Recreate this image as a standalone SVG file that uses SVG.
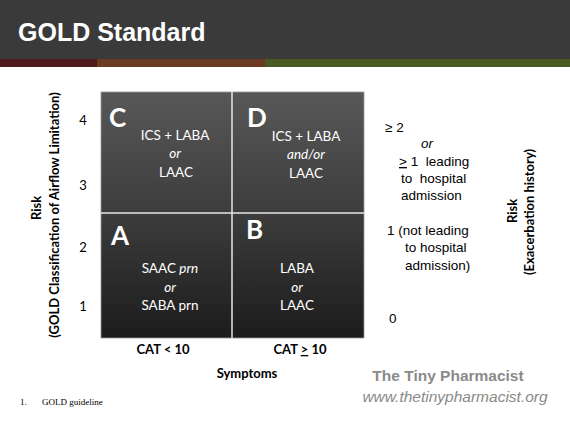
<svg xmlns="http://www.w3.org/2000/svg" width="570" height="426" viewBox="0 0 570 426">
<defs>
<linearGradient id="g" x1="0" y1="0" x2="0" y2="1">
<stop offset="0" stop-color="#585858"/>
<stop offset="0.5" stop-color="#3c3c3c"/>
<stop offset="1" stop-color="#1c1c1c"/>
</linearGradient>
</defs>
<style>
.q{font-family:Lato,"Open Sans",sans-serif;font-size:13.5px;fill:#fff;text-anchor:middle}
.big{font-family:Lato,"Open Sans",sans-serif;font-size:26px;font-weight:bold;fill:#fff}
.ax{font-family:Lato,"Open Sans",sans-serif;font-size:13px;fill:#000;font-weight:bold;text-anchor:middle}
.num{font-family:Lato,"Open Sans",sans-serif;font-size:13px;fill:#000;text-anchor:middle}
.r{font-family:"Liberation Sans",Arial,sans-serif;font-size:13.5px;fill:#000}
.i{font-style:italic}
</style>
<rect x="0" y="0" width="570" height="59" fill="#3a3a3a"/>
<rect x="0" y="59" width="97" height="8" fill="#4e1b1f"/>
<rect x="97" y="59" width="168" height="8" fill="#6b3a22"/>
<rect x="265" y="59" width="305" height="8" fill="#4a5a24"/>
<text x="18" y="41" font-family="Liberation Sans,Arial,sans-serif" font-size="25" font-weight="bold" fill="#fff">GOLD Standard</text>

<rect x="101" y="92" width="263" height="246" fill="url(#g)" stroke="#9a9a9a" stroke-width="0.8"/>
<g id="connectors">
<line x1="232" y1="92" x2="232" y2="338" stroke="#e6e6e6" stroke-width="1.5"/>
<line x1="101" y1="213" x2="364" y2="213" stroke="#e6e6e6" stroke-width="1.5"/>
</g>

<g id="C">
<text class="big" x="109" y="127">C</text>
<text class="q" x="175" y="140">ICS + LABA</text>
<text class="q i" x="175" y="158">or</text>
<text class="q" x="176" y="177">LAAC</text>
</g>
<g id="D">
<text class="big" x="247" y="127">D</text>
<text class="q" x="306" y="141">ICS + LABA</text>
<text class="q i" x="306" y="159">and/or</text>
<text class="q" x="306" y="178">LAAC</text>
</g>
<g id="A">
<text class="big" x="111" y="245">A</text>
<text class="q" x="170" y="273">SAAC <tspan class="i">prn</tspan></text>
<text class="q i" x="170" y="292">or</text>
<text class="q" x="170" y="310">SABA prn</text>
</g>
<g id="B">
<text class="big" x="246" y="239">B</text>
<text class="q" x="297" y="273">LABA</text>
<text class="q i" x="297" y="292">or</text>
<text class="q" x="297" y="310">LAAC</text>
</g>

<g id="axis-left">
<text class="num" x="83" y="125">4</text>
<text class="num" x="83" y="190">3</text>
<text class="num" x="83" y="252">2</text>
<text class="num" x="83" y="311">1</text>
<text class="ax" font-size="15" transform="translate(41,208) rotate(-90)">Risk</text>
<text class="ax" font-size="12" transform="translate(59,215) rotate(-90)">(GOLD Classification of Airflow Limitation)</text>
</g>

<g id="axis-bottom">
<text class="ax" x="163" y="354">CAT &lt; 10</text>
<text class="ax" x="300" y="354">CAT <tspan text-decoration="underline">&gt;</tspan> 10</text>
<text class="ax" font-size="14.5" x="247" y="378">Symptoms</text>
</g>

<g id="axis-right">
<text class="r" x="385" y="132">≥ 2</text>
<text class="r i" x="421" y="148">or</text>
<text class="r" x="399" y="166" xml:space="preserve"><tspan text-decoration="underline">&gt;</tspan> 1  leading</text>
<text class="r" x="401" y="183" xml:space="preserve">to  hospital</text>
<text class="r" x="401" y="200">admission</text>
<text class="r" x="387" y="235">1 (not leading</text>
<text class="r" x="405" y="252">to hospital</text>
<text class="r" x="405" y="270">admission)</text>
<text class="r" x="389" y="323">0</text>
<text class="ax" font-size="15" transform="translate(517,211) rotate(-90)">Risk</text>
<text class="ax" font-size="12" transform="translate(534,212) rotate(-90)">(Exacerbation history)</text>
</g>

<text x="448" y="381" font-family="Liberation Sans,Arial,sans-serif" font-size="15.5" font-weight="bold" fill="#8a8a8a" text-anchor="middle">The Tiny Pharmacist</text>
<text x="455" y="402" font-family="Liberation Sans,Arial,sans-serif" font-size="15.5" font-style="italic" fill="#8a8a8a" text-anchor="middle">www.thetinypharmacist.org</text>
<text x="20" y="405" font-family="Liberation Serif,Times New Roman,serif" font-size="9" fill="#000">1.</text>
<text x="42" y="405" font-family="Liberation Serif,Times New Roman,serif" font-size="9" fill="#000">GOLD guideline</text>
</svg>
